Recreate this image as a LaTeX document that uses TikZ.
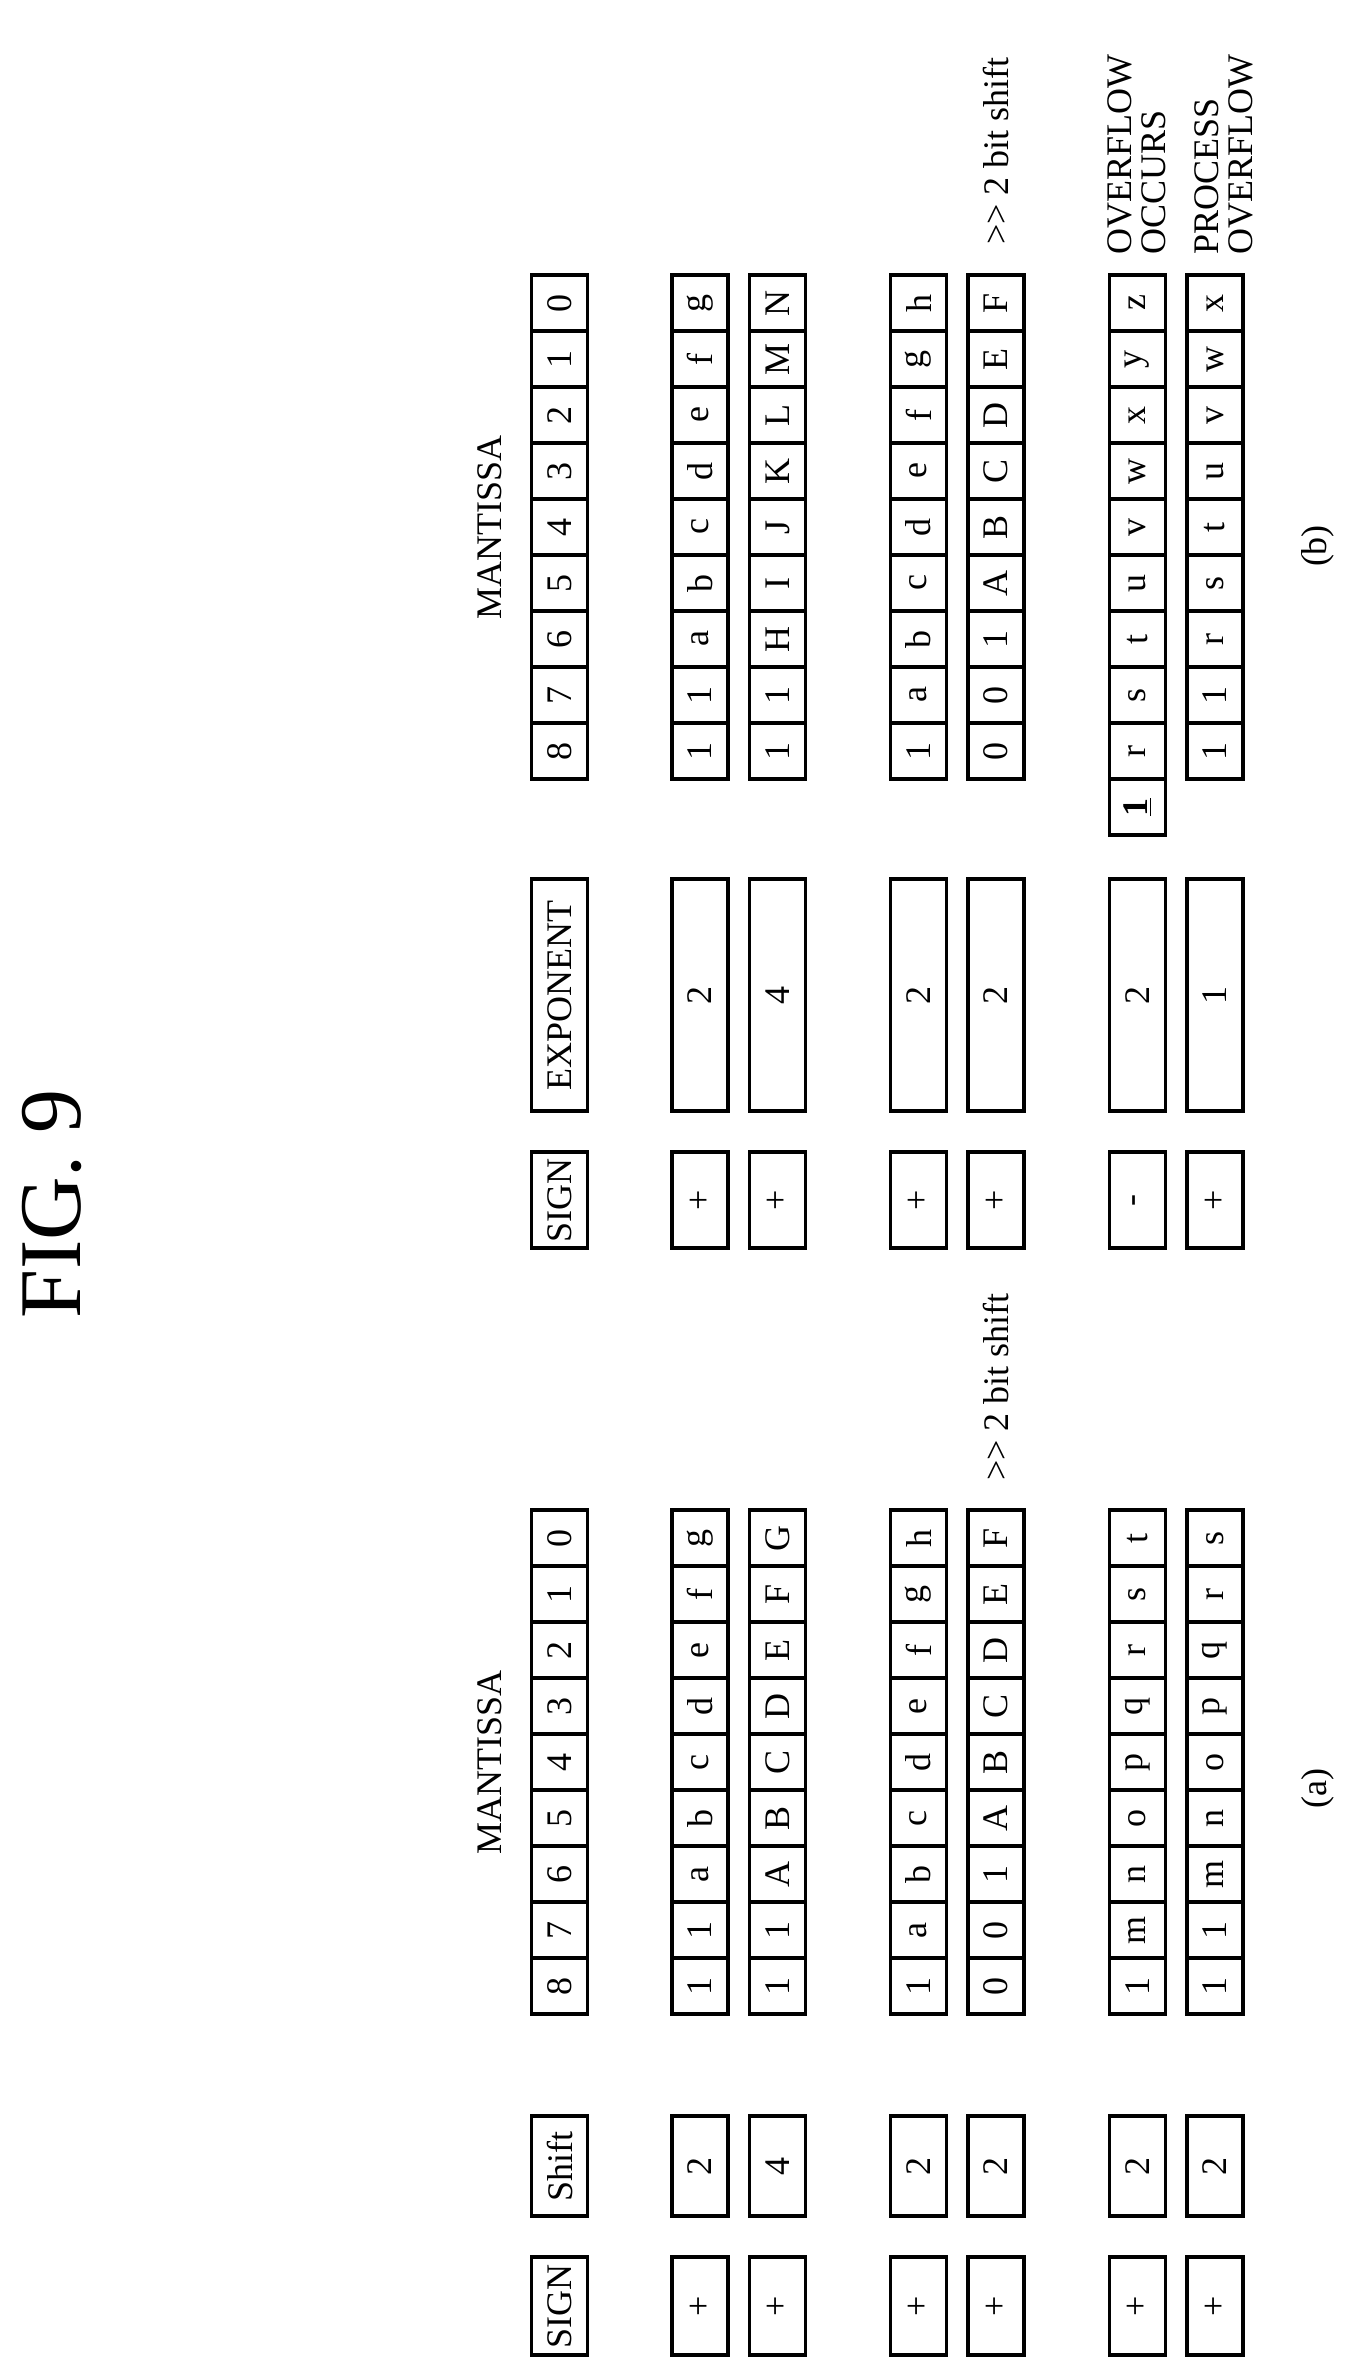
\documentclass[tikz,border=0pt]{standalone}
\usepackage{fontspec}
\setmainfont{Liberation Serif}
\begin{document}
\begin{tikzpicture}[x=0.5pt,y=-0.5pt,
  every node/.style={rotate=90,font=\fontsize{18}{20}\selectfont},
  cell/.style={draw,line width=1.6pt,minimum width=28pt,minimum height=28pt,inner sep=0pt},
  wbox/.style={draw,line width=1.6pt,minimum height=28pt,inner sep=0pt}]
\useasboundingbox (0,0) rectangle (1346,2372);
\newcommand{\mrow}[4]{% name, x, y0, list top-to-bottom
  \foreach \t [count=\k from 0] in {#4}
    \node[cell] (#1-\k) at (#2,#3+56*\k+28) {\t};}
% (b)
\mrow{bh}{559.5}{275}{0,1,2,3,4,5,6,7,8}
\mrow{b1}{700}{275}{g,f,e,d,c,b,a,1,1}
\mrow{b2}{777.5}{275}{N,M,L,K,J,I,H,1,1}
\mrow{b3}{918.5}{275}{h,g,f,e,d,c,b,a,1}
\mrow{b4}{996}{275}{F,E,D,C,B,A,1,0,0}
\mrow{b5}{1137.5}{275}{z,y,x,w,v,u,t,s,r,{\underline{\textbf{1}}}}
\mrow{b6}{1215}{275}{x,w,v,u,t,s,r,1,1}
% (a)
\mrow{ah}{559.5}{1510}{0,1,2,3,4,5,6,7,8}
\mrow{a1}{700}{1510}{g,f,e,d,c,b,a,1,1}
\mrow{a2}{777.5}{1510}{G,F,E,D,C,B,A,1,1}
\mrow{a3}{918.5}{1510}{h,g,f,e,d,c,b,a,1}
\mrow{a4}{996}{1510}{F,E,D,C,B,A,1,0,0}
\mrow{a5}{1137.5}{1510}{t,s,r,q,p,o,n,m,1}
\mrow{a6}{1215}{1510}{s,r,q,p,o,n,m,1,1}
% exponent / shift / sign boxes
\foreach \n/\x/\e/\s/\sh/\sa in {h/559.5/EXPONENT/SIGN/Shift/SIGN,1/700/2/+/2/+,2/777.5/4/+/4/+,3/918.5/2/+/2/+,4/996/2/+/2/+,5/1137.5/2/-/2/+,6/1215/1/+/2/+}{
  \node[wbox,minimum width=116pt] (be\n) at (\x,995) {\e};
  \node[wbox,minimum width=48pt] (bs\n) at (\x,1200) {\s};
  \node[wbox,minimum width=50pt] (as\n) at (\x,2166) {\sh};
  \node[wbox,minimum width=49pt] (ag\n) at (\x,2306) {\sa};
}
\node (fig) at (52,1204) {\fontsize{44}{48}\selectfont FIG. 9};
\node (mb) at (490,527) {MANTISSA};
\node (ma) at (490,1762) {MANTISSA};
\node[anchor=west] (sb) at (996,252) {{>}{>} 2 bit shift};
\node[anchor=west] (sa) at (996,1488) {{>}{>} 2 bit shift};
\node[anchor=west,align=left,inner sep=0pt] (ov1) at (1137,255) {OVERFLOW\\[-3pt]OCCURS};
\node[anchor=west,align=left,inner sep=0pt] (ov2) at (1224,255) {PROCESS\\[-3pt]OVERFLOW};
\node (lb) at (1318,546) {(b)};
\node (la) at (1318,1788) {(a)};
\end{tikzpicture}
\end{document}
